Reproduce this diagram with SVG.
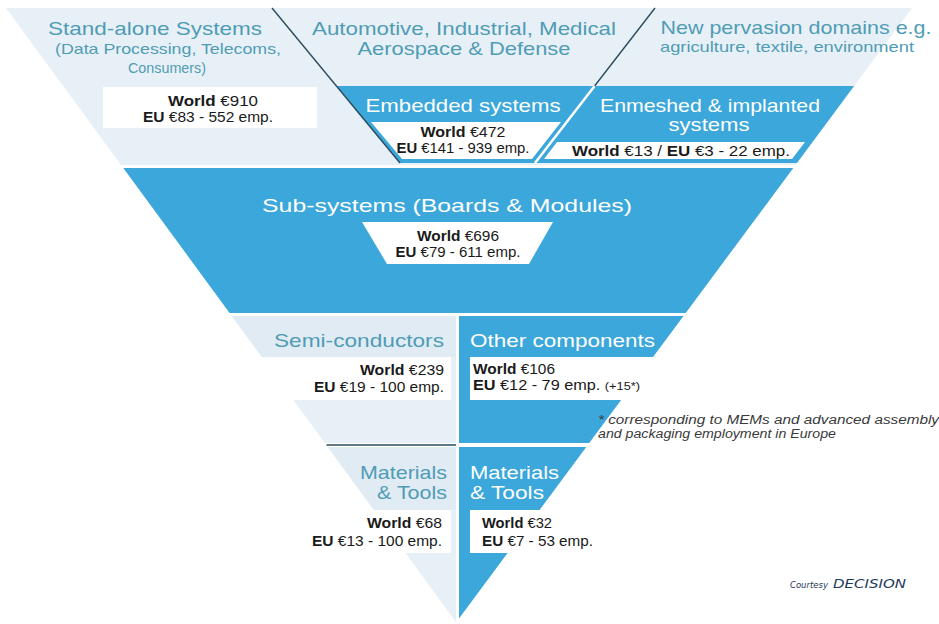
<svg xmlns="http://www.w3.org/2000/svg" width="939" height="624" viewBox="0 0 939 624">
  <style>
    .light { fill: #e8f0f7; }
    .lightTitle { fill: #e0ebf4; }
    .blue { fill: #3ba7da; }
    .box { fill: #ffffff; }
    .title { font-family: "Liberation Sans", Arial, sans-serif; font-size: 19px; }
    .sub { font-family: "Liberation Sans", Arial, sans-serif; font-size: 15px; }
    .teal { fill: #4f9cb5; }
    .white { fill: #ffffff; }
    .num { font-family: "Liberation Sans", Arial, sans-serif; font-size: 14px; fill: #1a1a1a; }
    .b { font-weight: bold; }
    .divider { stroke: #2d4b5e; stroke-width: 1.4; fill: none; }
    .split { stroke: #ffffff; stroke-width: 2.5; fill: none; }
    .note { font-family: "Liberation Sans", Arial, sans-serif; font-size: 12.5px; font-style: italic; fill: #3a3a3a; }
    .credit { font-family: "DejaVu Sans", Verdana, sans-serif; font-style: italic; fill: #1f3b5a; }
  </style>

  <rect width="939" height="624" fill="#ffffff"/>

  <!-- top tier: application domains -->
  <g id="tier-applications">
    <polygon class="light" points="6,8 912,8 795.5,165 121.1,165"/>
  </g>

  <g id="standalone-systems">
    <text class="title teal" x="155" y="35" text-anchor="middle" textLength="214" lengthAdjust="spacingAndGlyphs">Stand-alone Systems</text>
    <text class="sub teal" x="168" y="54" text-anchor="middle" textLength="226" lengthAdjust="spacingAndGlyphs">(Data Processing, Telecoms,</text>
    <text class="sub teal" x="167" y="73" text-anchor="middle" textLength="78" lengthAdjust="spacingAndGlyphs">Consumers)</text>
    <rect class="box" x="103" y="87" width="214" height="41"/>
    <text class="num" x="213" y="106" text-anchor="middle" textLength="90" lengthAdjust="spacingAndGlyphs"><tspan class="b">World</tspan> €910</text>
    <text class="num" x="208" y="122" text-anchor="middle" textLength="130" lengthAdjust="spacingAndGlyphs"><tspan class="b">EU</tspan> €83 - 552 emp.</text>
  </g>

  <g id="automotive-domain">
    <text class="title teal" x="464" y="35" text-anchor="middle" textLength="304" lengthAdjust="spacingAndGlyphs">Automotive, Industrial, Medical</text>
    <text class="title teal" x="464" y="55" text-anchor="middle" textLength="213" lengthAdjust="spacingAndGlyphs">Aerospace &amp; Defense</text>
  </g>

  <g id="pervasion-domain">
    <text class="title teal" x="796" y="34" text-anchor="middle" textLength="271" lengthAdjust="spacingAndGlyphs">New pervasion domains e.g.</text>
    <text class="sub teal" x="787" y="52" text-anchor="middle" textLength="254" lengthAdjust="spacingAndGlyphs">agriculture, textile, environment</text>
  </g>

  <!-- embedded + enmeshed band -->
  <g id="embedded-systems">
    <polygon class="blue" points="336.4,86 854.1,86 797,163 400,163"/>
    <text class="title white" x="463" y="112" text-anchor="middle" textLength="195" lengthAdjust="spacingAndGlyphs">Embedded systems</text>
    <polygon class="box" points="371,122 561,122 532,159 402,159"/>
    <text class="num" x="463" y="137" text-anchor="middle" textLength="85" lengthAdjust="spacingAndGlyphs"><tspan class="b">World</tspan> €472</text>
    <text class="num" x="463" y="153" text-anchor="middle" textLength="133" lengthAdjust="spacingAndGlyphs"><tspan class="b">EU</tspan> €141 - 939 emp.</text>
  </g>

  <g id="enmeshed-systems">
    <text class="title white" x="710" y="112" text-anchor="middle" textLength="220" lengthAdjust="spacingAndGlyphs">Enmeshed &amp; implanted</text>
    <text class="title white" x="709" y="131" text-anchor="middle" textLength="81" lengthAdjust="spacingAndGlyphs">systems</text>
    <polygon class="box" points="557,142 805,142 792,159 544,159"/>
    <text class="num" x="572" y="156" font-size="13" textLength="218" lengthAdjust="spacingAndGlyphs"><tspan class="b">World</tspan> €13 / <tspan class="b">EU</tspan> €3 - 22 emp.</text>
  </g>

  <!-- sub-systems band -->
  <g id="sub-systems">
    <polygon class="blue" points="123.3,168 793.3,168 685.7,313 229.6,313"/>
    <text class="title white" x="447" y="212" text-anchor="middle" textLength="370" lengthAdjust="spacingAndGlyphs">Sub-systems (Boards &amp; Modules)</text>
    <polygon class="box" points="362,222 553,222 529,264 387,264"/>
    <text class="num" x="458" y="241" text-anchor="middle" textLength="82" lengthAdjust="spacingAndGlyphs"><tspan class="b">World</tspan> €696</text>
    <text class="num" x="458" y="257" text-anchor="middle" textLength="125" lengthAdjust="spacingAndGlyphs"><tspan class="b">EU</tspan> €79 - 611 emp.</text>
  </g>

  <!-- components band -->
  <g id="semi-conductors">
    <polygon class="light" points="231.8,316 456,316 456,443 324.9,443"/>
    <polygon class="lightTitle" points="231.8,316 456,316 456,357 261.8,357"/>
    <text class="title teal" x="444" y="347" text-anchor="end" textLength="170" lengthAdjust="spacingAndGlyphs">Semi-conductors</text>
    <rect class="box" x="240" y="357" width="211" height="43"/>
    <text class="num" x="444" y="375" text-anchor="end" textLength="84" lengthAdjust="spacingAndGlyphs"><tspan class="b">World</tspan> €239</text>
    <text class="num" x="444" y="392" text-anchor="end" textLength="130" lengthAdjust="spacingAndGlyphs"><tspan class="b">EU</tspan> €19 - 100 emp.</text>
  </g>

  <g id="other-components">
    <polygon class="blue" points="459,316 683.5,316 589.2,443 459,443"/>
    <text class="title white" x="470" y="347" textLength="185" lengthAdjust="spacingAndGlyphs">Other components</text>
    <rect class="box" x="470" y="357" width="230" height="43"/>
    <text class="num" x="473" y="374" textLength="82" lengthAdjust="spacingAndGlyphs"><tspan class="b">World</tspan> €106</text>
    <text class="num" x="473" y="390" textLength="167" lengthAdjust="spacingAndGlyphs"><tspan class="b">EU</tspan> €12 - 79 emp. <tspan font-size="11">(+15*)</tspan></text>
  </g>

  <g id="footnote">
    <text class="note" x="598" y="424" textLength="341" lengthAdjust="spacingAndGlyphs">* corresponding to MEMs and advanced assembly</text>
    <text class="note" x="598" y="438" textLength="238" lengthAdjust="spacingAndGlyphs">and packaging employment in Europe</text>
  </g>

  <!-- materials band -->
  <g id="materials-tools-semi">
    <polygon class="light" points="327.8,447 456,447 456,622"/>
    <polygon class="lightTitle" points="327.8,447 456,447 456,510 374,510"/>
    <text class="title teal" x="447" y="479" text-anchor="end" textLength="87" lengthAdjust="spacingAndGlyphs">Materials</text>
    <text class="title teal" x="447" y="499" text-anchor="end" textLength="70" lengthAdjust="spacingAndGlyphs">&amp; Tools</text>
    <rect class="box" x="300" y="510" width="151" height="43"/>
    <text class="num" x="442" y="528" text-anchor="end" textLength="75" lengthAdjust="spacingAndGlyphs"><tspan class="b">World</tspan> €68</text>
    <text class="num" x="442" y="546" text-anchor="end" textLength="130" lengthAdjust="spacingAndGlyphs"><tspan class="b">EU</tspan> €13 - 100 emp.</text>
  </g>

  <g id="materials-tools-components">
    <polygon class="blue" points="459,447 586.3,447 459,618.5"/>
    <text class="title white" x="470" y="479" textLength="89" lengthAdjust="spacingAndGlyphs">Materials</text>
    <text class="title white" x="470" y="499" textLength="74" lengthAdjust="spacingAndGlyphs">&amp; Tools</text>
    <rect class="box" x="470" y="510" width="140" height="43"/>
    <text class="num" x="482" y="528" textLength="70" lengthAdjust="spacingAndGlyphs"><tspan class="b">World</tspan> €32</text>
    <text class="num" x="482" y="546" textLength="111" lengthAdjust="spacingAndGlyphs"><tspan class="b">EU</tspan> €7 - 53 emp.</text>
  </g>

  <!-- separators between the domain columns and tiers -->
  <g id="dividers">
    <line class="divider" x1="272" y1="8" x2="400" y2="163"/>
    <line class="divider" x1="655" y1="8" x2="594.6" y2="86"/>
    <line class="split" x1="594.6" y1="86" x2="535" y2="163"/>
    <line class="divider" x1="326.5" y1="445" x2="456" y2="445"/>
  </g>

  <g id="credit">
    <text class="credit" x="790" y="588" font-size="9" textLength="38" lengthAdjust="spacingAndGlyphs">Courtesy</text>
    <text class="credit" x="833" y="588" font-size="13" textLength="73" lengthAdjust="spacingAndGlyphs">DECISION</text>
  </g>
</svg>
